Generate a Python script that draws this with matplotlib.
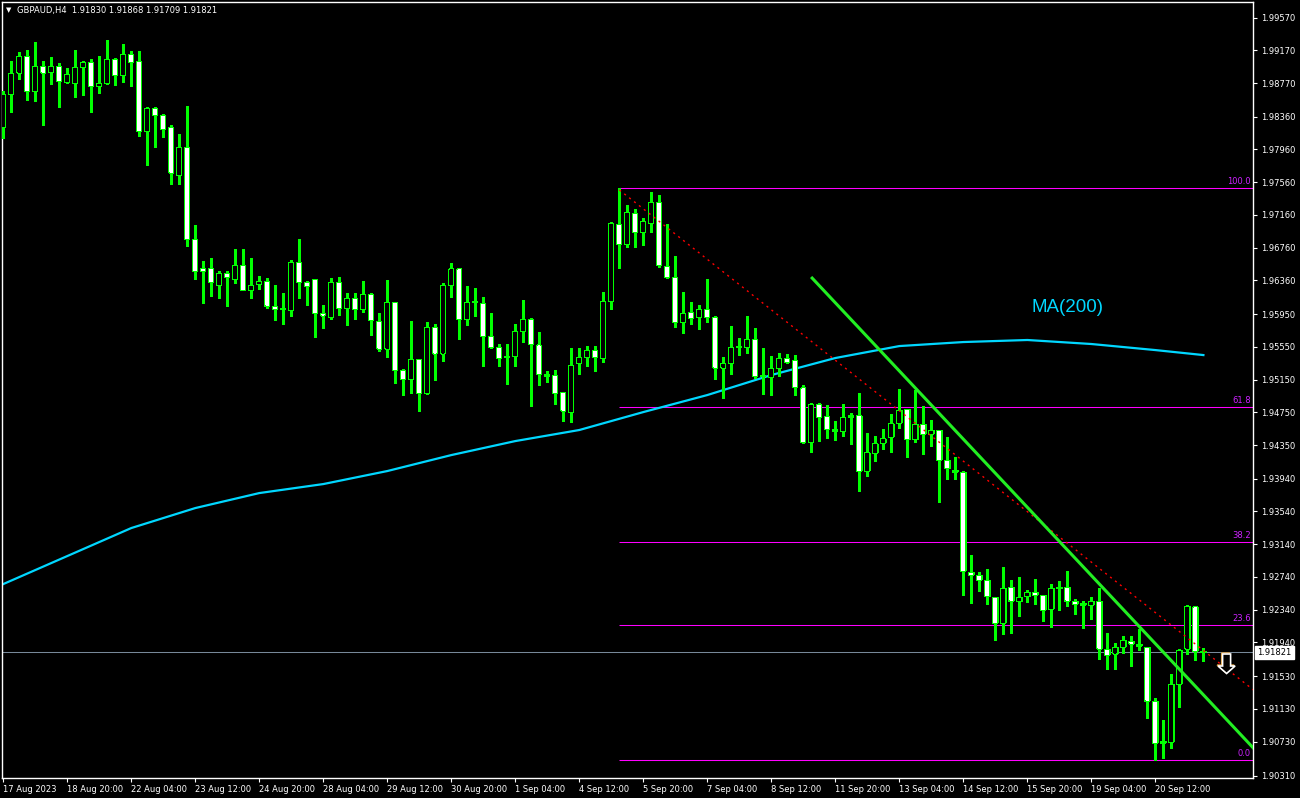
import matplotlib
matplotlib.use('Agg')
import matplotlib.pyplot as plt
import matplotlib.transforms as mtransforms
from matplotlib.patches import Polygon

# GBPAUD H4, bars from 17 Aug 2023 12:00 to 21 Sep 2023 12:00
symbol = 'GBPAUD,H4'

opens = [
    1.98233, 1.98636, 1.98893, 1.99100, 1.98673, 1.98978, 1.98905, 1.98978, 1.98782, 1.98770,
    1.98966, 1.99027, 1.98734, 1.98770, 1.99064, 1.98868, 1.99125, 1.99039, 1.98184, 1.98465,
    1.98380, 1.98233, 1.97647, 1.97989, 1.96866, 1.96512, 1.96512, 1.96304, 1.96451, 1.96377,
    1.96548, 1.96243, 1.96316, 1.96353, 1.96048, 1.96011, 1.95999, 1.96585, 1.96341, 1.96377,
    1.95962, 1.95913, 1.96341, 1.96023, 1.96145, 1.96011, 1.96194, 1.95865, 1.95523, 1.96097,
    1.95266, 1.95156, 1.95401, 1.94985, 1.95791, 1.95462, 1.96304, 1.96500, 1.95889, 1.96097,
    1.96084, 1.95681, 1.95547, 1.95425, 1.95437, 1.95742, 1.95889, 1.95572, 1.95217, 1.95205,
    1.94998, 1.94753, 1.95340, 1.95425, 1.95510, 1.95413, 1.96109, 1.97049, 1.96793, 1.97183,
    1.96951, 1.97061, 1.97318, 1.96536, 1.96402, 1.95852, 1.95974, 1.95913, 1.96011, 1.95913,
    1.95291, 1.95352, 1.95547, 1.95547, 1.95645, 1.95193, 1.95181, 1.95279, 1.95413, 1.95388,
    1.95047, 1.94387, 1.94851, 1.94705, 1.94546, 1.94521, 1.94692, 1.94717, 1.94033, 1.94253,
    1.94375, 1.94448, 1.94619, 1.94790, 1.94412, 1.94607, 1.94485, 1.94534, 1.94167, 1.94045,
    1.94021, 1.92800, 1.92763, 1.92702, 1.92495, 1.92177, 1.92617, 1.92434, 1.92495, 1.92556,
    1.92519, 1.92348, 1.92604, 1.92617, 1.92446, 1.92421, 1.92397, 1.92446, 1.91860, 1.91799,
    1.91884, 1.91957, 1.91921, 1.91884, 1.91225, 1.90736, 1.90724, 1.91432, 1.91860, 1.92373,
    1.91830]

highs = [
    1.98673, 1.99039, 1.99149, 1.99173, 1.99271, 1.99039, 1.99088, 1.99015, 1.98954, 1.99173,
    1.99039, 1.99064, 1.99100, 1.99296, 1.99076, 1.99247, 1.99161, 1.99161, 1.98477, 1.98477,
    1.98392, 1.98257, 1.98148, 1.98490, 1.97037, 1.96597, 1.96634, 1.96475, 1.96475, 1.96744,
    1.96744, 1.96634, 1.96414, 1.96390, 1.96304, 1.96206, 1.96609, 1.96866, 1.96353, 1.96377,
    1.96060, 1.96390, 1.96402, 1.96206, 1.96206, 1.96353, 1.96206, 1.95962, 1.96365, 1.96097,
    1.95279, 1.95865, 1.95401, 1.95852, 1.95828, 1.96329, 1.96573, 1.96512, 1.96292, 1.96268,
    1.96158, 1.95962, 1.95584, 1.95584, 1.95828, 1.96121, 1.95901, 1.95730, 1.95254, 1.95266,
    1.94998, 1.95535, 1.95535, 1.95559, 1.95559, 1.96219, 1.97073, 1.97489, 1.97281, 1.97232,
    1.97122, 1.97440, 1.97403, 1.97049, 1.96658, 1.96219, 1.96097, 1.96060, 1.96377, 1.95920,
    1.95425, 1.95804, 1.95657, 1.95926, 1.95779, 1.95535, 1.95437, 1.95474, 1.95462, 1.95449,
    1.95083, 1.94860, 1.94863, 1.94839, 1.94644, 1.94851, 1.94741, 1.94985, 1.94497, 1.94460,
    1.94546, 1.94729, 1.95034, 1.94795, 1.95022, 1.94827, 1.94656, 1.94540, 1.94448, 1.94204,
    1.94030, 1.93007, 1.92800, 1.92836, 1.92500, 1.92861, 1.92702, 1.92739, 1.92580, 1.92714,
    1.92525, 1.92653, 1.92690, 1.92812, 1.92470, 1.92446, 1.92495, 1.92604, 1.92055, 1.91933,
    1.92018, 1.92018, 1.92104, 1.91890, 1.91261, 1.90993, 1.91554, 1.91860, 1.92395, 1.92380,
    1.91868]

lows = [
    1.98099, 1.98416, 1.98819, 1.98563, 1.98551, 1.98257, 1.98758, 1.98477, 1.98770, 1.98600,
    1.98624, 1.98416, 1.98648, 1.98758, 1.98746, 1.98782, 1.98734, 1.98123, 1.97769, 1.97989,
    1.98111, 1.97537, 1.97537, 1.96780, 1.96377, 1.96084, 1.96170, 1.96145, 1.96048, 1.96329,
    1.96243, 1.96145, 1.96255, 1.96023, 1.95877, 1.95828, 1.95926, 1.96145, 1.96060, 1.95669,
    1.95779, 1.95889, 1.95938, 1.95816, 1.95889, 1.95974, 1.95694, 1.95498, 1.95425, 1.95108,
    1.94961, 1.94985, 1.94766, 1.94975, 1.95144, 1.95376, 1.96158, 1.95645, 1.95816, 1.95926,
    1.95315, 1.95535, 1.95315, 1.95095, 1.95315, 1.95608, 1.94827, 1.95083, 1.95120, 1.94851,
    1.94644, 1.94631, 1.95217, 1.95315, 1.95254, 1.95364, 1.96011, 1.96512, 1.96768, 1.96768,
    1.96793, 1.96951, 1.96524, 1.96395, 1.95791, 1.95718, 1.95828, 1.95767, 1.95852, 1.95156,
    1.94924, 1.95217, 1.95449, 1.95474, 1.95169, 1.94973, 1.94961, 1.95193, 1.95352, 1.94961,
    1.94375, 1.94265, 1.94399, 1.94436, 1.94412, 1.94460, 1.94363, 1.93789, 1.93972, 1.94155,
    1.94302, 1.94265, 1.94558, 1.94204, 1.94387, 1.94241, 1.94338, 1.93655, 1.93935, 1.93935,
    1.92519, 1.92421, 1.92568, 1.92409, 1.91970, 1.92043, 1.92055, 1.92263, 1.92434, 1.92409,
    1.92202, 1.92128, 1.92336, 1.92385, 1.92287, 1.92116, 1.92226, 1.91738, 1.91616, 1.91616,
    1.91811, 1.91652, 1.91847, 1.91017, 1.90504, 1.90529, 1.90651, 1.91151, 1.91799, 1.91725,
    1.91709]

closes = [
    1.98636, 1.98893, 1.99100, 1.98673, 1.98978, 1.98893, 1.98978, 1.98795, 1.98880, 1.98966,
    1.99027, 1.98734, 1.98770, 1.99064, 1.98868, 1.99125, 1.99027, 1.98184, 1.98465, 1.98380,
    1.98209, 1.97672, 1.97989, 1.96866, 1.96475, 1.96475, 1.96329, 1.96451, 1.96402, 1.96548,
    1.96243, 1.96304, 1.96353, 1.96048, 1.96011, 1.96015, 1.96585, 1.96341, 1.96292, 1.95962,
    1.95926, 1.96341, 1.96023, 1.96145, 1.96011, 1.96194, 1.95865, 1.95523, 1.96097, 1.95266,
    1.95156, 1.95401, 1.94985, 1.95791, 1.95462, 1.96304, 1.96500, 1.95889, 1.96097, 1.96090,
    1.95681, 1.95547, 1.95413, 1.95420, 1.95742, 1.95889, 1.95572, 1.95217, 1.95193, 1.94985,
    1.94766, 1.95327, 1.95425, 1.95510, 1.95425, 1.96109, 1.97061, 1.96793, 1.97195, 1.96951,
    1.97086, 1.97318, 1.96548, 1.96402, 1.95852, 1.95962, 1.95901, 1.96011, 1.95913, 1.95291,
    1.95352, 1.95547, 1.95550, 1.95645, 1.95193, 1.95190, 1.95291, 1.95413, 1.95364, 1.95047,
    1.94387, 1.94851, 1.94692, 1.94546, 1.94521, 1.94692, 1.94717, 1.94033, 1.94265, 1.94375,
    1.94436, 1.94619, 1.94778, 1.94412, 1.94607, 1.94485, 1.94534, 1.94167, 1.94058, 1.94021,
    1.92812, 1.92763, 1.92702, 1.92495, 1.92177, 1.92604, 1.92446, 1.92495, 1.92556, 1.92519,
    1.92336, 1.92604, 1.92600, 1.92446, 1.92409, 1.92397, 1.92446, 1.91860, 1.91786, 1.91884,
    1.91970, 1.91921, 1.91896, 1.91225, 1.90712, 1.90712, 1.91432, 1.91847, 1.92385, 1.91835,
    1.91821]

# time axis labels, every 8 bars
label_bars = list(range(0, 145, 8))
time_labels = ['17 Aug 2023', '18 Aug 20:00', '22 Aug 04:00', '23 Aug 12:00', '24 Aug 20:00',
               '28 Aug 04:00', '29 Aug 12:00', '30 Aug 20:00', '1 Sep 04:00', '4 Sep 12:00',
               '5 Sep 20:00', '7 Sep 04:00', '8 Sep 12:00', '11 Sep 20:00', '13 Sep 04:00',
               '14 Sep 12:00', '15 Sep 20:00', '19 Sep 04:00', '20 Sep 12:00']

price_ticks = [1.99570, 1.99170, 1.98770, 1.98360, 1.97960, 1.97560, 1.97160, 1.96760,
               1.96360, 1.95950, 1.95550, 1.95150, 1.94750, 1.94350, 1.93940, 1.93540,
               1.93140, 1.92740, 1.92340, 1.91940, 1.91530, 1.91130, 1.90730, 1.90310]

# MA(200) read every 8 bars
ma_bars = [0, 8, 16, 24, 32, 40, 48, 56, 64, 72, 80, 88, 96, 104, 112, 120, 128, 136, 144, 150]
ma_values = [1.92653, 1.92995, 1.93337, 1.93581, 1.93764, 1.93874, 1.94033, 1.94228, 1.94399,
             1.94534, 1.94753, 1.94961, 1.95205, 1.95413, 1.95559, 1.95608, 1.95633, 1.95584,
             1.95510, 1.95449]

# fibonacci from bar 77 high to bar 144 low
fib_start_bar = 77
fib_high = 1.97489
fib_low = 1.90504
fib_levels = [0.0, 23.6, 38.2, 61.8, 100.0]

green_x = [101.1, 156.3]
green_y = [1.96389, 1.90645]
red_x = [77, 156.3]
red_y = [1.97465, 1.91357]

last_price = 1.91821
arrow_bar = 152.9
arrow_price = 1.91799

GREEN = '#00ff00'
n = len(opens)
xs = list(range(n))

fig = plt.figure(figsize=(13, 7.98), dpi=100, facecolor='black')
ax = fig.add_axes([2 / 1300, 20 / 798, 1251 / 1300, 776 / 798], facecolor='black')
ax.set_xlim(-0.16, 156.2)
ax.set_ylim(1.90285, 1.99760)
px = (1.99760 - 1.90285) / 776  # price per pixel

# MA line under the candles
ax.plot(ma_bars, ma_values, color='#00d7ff', lw=1.6, zorder=2)

# fib levels
for lv in fib_levels:
    p = fib_low + (fib_high - fib_low) * lv / 100.0
    ax.hlines(p, fib_start_bar, 157, color='#ff00ff', lw=0.75, zorder=1)
    ax.text(155.9, p + 0.0002, f'{lv:.1f}', color='#cc22ff', fontsize=6,
            ha='right', va='bottom', zorder=5)

ax.axhline(last_price, color='#778899', lw=0.75, zorder=1)

# candles: wick, green body block, then coloured interior
ax.vlines(xs, lows, highs, color=GREEN, lw=0.75, zorder=3, antialiased=False)
bottoms = [min(o, c) for o, c in zip(opens, closes)]
heights = [max(abs(c - o), px) for o, c in zip(opens, closes)]
ax.bar(xs, heights, bottom=bottoms, width=0.66, color=GREEN, linewidth=0,
       zorder=4, antialiased=False, snap=False)
inner_x, inner_b, inner_h, inner_c = [], [], [], []
for i in xs:
    if heights[i] > 2.2 * px:
        inner_x.append(i)
        inner_b.append(bottoms[i] + px)
        inner_h.append(heights[i] - 2 * px)
        inner_c.append('black' if closes[i] > opens[i] else 'white')
ax.bar(inner_x, inner_h, bottom=inner_b, width=0.40, color=inner_c, linewidth=0,
       zorder=4.5, antialiased=False, snap=False)

# trend lines
ax.plot(red_x, red_y, color='red', lw=1.0, ls=(0, (1.5, 3)), zorder=5)
ax.plot(green_x, green_y, color='#22ee22', lw=2.2, zorder=5)

ax.text(128.5, 1.96035, 'MA(200)', color='#00d7ff', fontsize=13.5,
        family='Liberation Sans', ha='left', va='center', zorder=6)

# axes styling
for s in ax.spines.values():
    s.set_color('white')
    s.set_linewidth(1)
ax.yaxis.tick_right()
ax.set_yticks(price_ticks)
ax.set_yticklabels([f'{t:.5f}' for t in price_ticks])
ax.set_xticks(label_bars)
ax.set_xticklabels(time_labels, ha='left')
ax.tick_params(colors='white', labelsize=6, length=3, width=0.8, pad=2)
ax.tick_params(axis='y', pad=3)

# current price box
ax.text(1.0035, last_price, '1.91821', transform=ax.get_yaxis_transform(),
        color='black', fontsize=6, ha='left', va='center',
        bbox=dict(boxstyle='square,pad=0.25', fc='white', ec='white'), zorder=7)

# header
fig.text(6 / 1300, 1 - 10 / 798, '\u25bc', color='white', fontsize=5, va='center')
fig.text(17 / 1300, 1 - 10 / 798, f'{symbol}  {opens[-1]:.5f} {highs[-1]:.5f} {lows[-1]:.5f} {closes[-1]:.5f}',
         color='white', fontsize=6, va='center')

# sell arrow
ax_px = ax.transData.transform((arrow_bar, arrow_price))
shape = [(-4, 0), (4, 0), (4, 12), (8.5, 12), (0, 19.5), (-8.5, 12), (-4, 12)]
verts = [(ax_px[0] + dx, ax_px[1] - dy) for dx, dy in shape]
ax.add_patch(Polygon([(vx - 1, vy + 1) for vx, vy in verts], closed=True, fc='none',
                     ec='#e0a040', lw=1.0, transform=mtransforms.IdentityTransform(), zorder=8))
ax.add_patch(Polygon(verts, closed=True, fc='black', ec='white', lw=1.2,
                     transform=mtransforms.IdentityTransform(), zorder=9))

fig.savefig('out.png', dpi=100, facecolor='black')
